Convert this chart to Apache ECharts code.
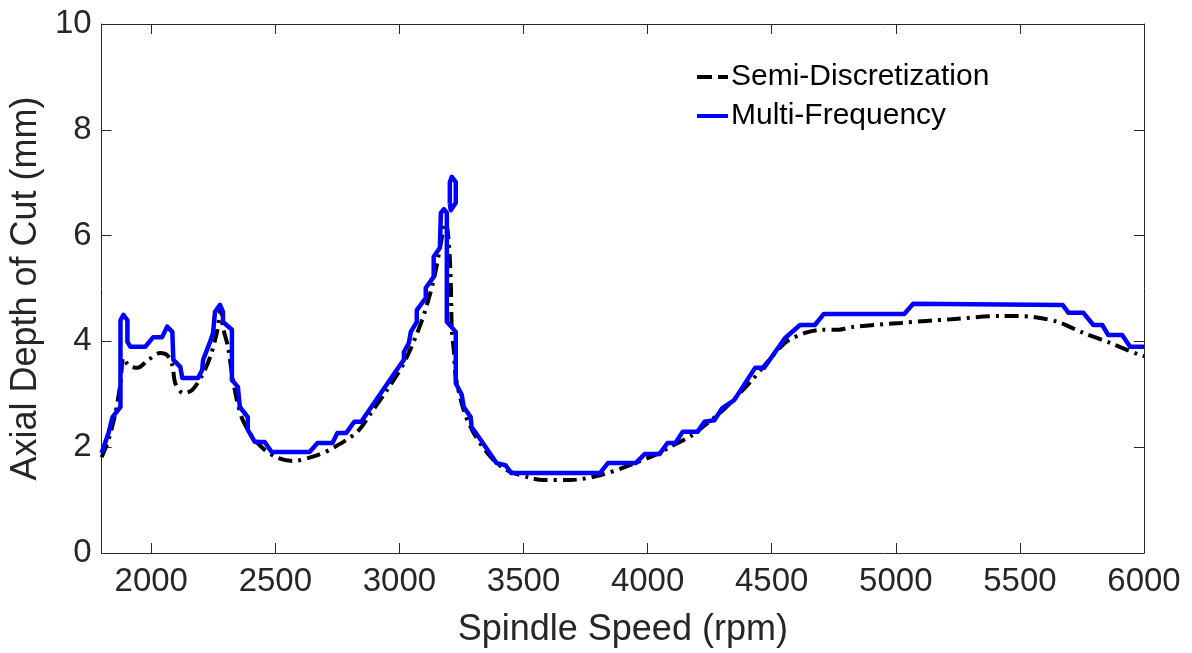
<!DOCTYPE html>
<html>
<head>
<meta charset="utf-8">
<script src="https://cdn.jsdelivr.net/npm/echarts@6/dist/echarts.min.js"></script>
<style>
html,body{margin:0;padding:0;background:#fff;}
#c{width:1192px;height:653px;}
</style>
</head>
<body>
<div id="c"></div>
<script>
// ---- data ----
var xTicks = [2000, 2500, 3000, 3500, 4000, 4500, 5000, 5500, 6000];
var yTicks = [0, 2, 4, 6, 8, 10];

var sdRpm = [1800,1828,1856,1876,1888,1908,1944,1988,2036,2064,2085,2097,2129,2165,2205,2237,2265,2281,2289,2309,2325,2345,2369,2409,2457,2509,2570,2670,2738,2830,2886,2950,3018,3087,3138,3179,3187,3199,3207,3211,3219,3227,3259,3299,3367,3431,3527,3580,3688,3808,3928,4048,4088,4181,4221,4313,4421,4553,4634,4702,4770,4822,5022,5223,5423,5491,5556,5652,5756,5864,5984,6000];
var sdDepth = [1.81,2.14,2.65,3.21,3.69,3.55,3.50,3.65,3.78,3.74,3.55,3.21,3.02,3.08,3.36,3.70,4.18,4.63,4.27,3.90,3.40,2.89,2.51,2.19,1.95,1.80,1.74,1.85,2.00,2.29,2.65,3.08,3.59,4.35,5.16,6.16,6.24,5.86,5.10,4.22,3.84,3.33,2.70,2.27,1.82,1.57,1.42,1.38,1.38,1.47,1.66,1.89,2.00,2.23,2.38,2.74,3.27,3.97,4.16,4.22,4.22,4.27,4.35,4.42,4.48,4.48,4.46,4.37,4.16,3.97,3.74,3.72];

var mfRpm = [1800,1828,1844,1876,1876,1888,1904,1904,1916,1976,2008,2044,2064,2085,2089,2117,2125,2189,2205,2209,2237,2249,2257,2277,2289,2289,2325,2325,2349,2357,2389,2389,2417,2457,2485,2638,2670,2730,2750,2786,2818,2846,2998,3018,3018,3038,3046,3070,3070,3106,3106,3138,3138,3163,3167,3179,3191,3191,3227,3227,3251,3259,3287,3291,3327,3391,3427,3451,3808,3840,3952,3988,4048,4080,4112,4141,4201,4229,4269,4301,4349,4433,4469,4553,4614,4674,4710,5034,5070,5672,5696,5756,5796,5832,5856,5912,5944,6000];
var mfDepth = [1.89,2.27,2.57,2.76,4.40,4.50,4.40,3.99,3.90,3.90,4.08,4.08,4.28,4.18,3.65,3.52,3.31,3.31,3.46,3.65,3.99,4.16,4.56,4.69,4.56,4.37,4.22,3.27,3.14,2.76,2.57,2.33,2.10,2.10,1.91,1.91,2.08,2.08,2.27,2.27,2.48,2.48,3.52,3.65,3.80,3.97,4.18,4.37,4.59,4.82,5.01,5.22,5.60,5.77,6.43,6.50,6.43,4.37,4.18,3.21,2.99,2.76,2.57,2.38,2.14,1.70,1.66,1.51,1.51,1.70,1.70,1.87,1.87,2.08,2.08,2.29,2.29,2.48,2.51,2.74,2.89,3.50,3.50,4.06,4.31,4.31,4.52,4.52,4.71,4.69,4.54,4.54,4.31,4.31,4.12,4.12,3.90,3.90];

// small closed island of the Multi-Frequency contour near the peak
var mfLoopRpm = [3203,3203,3211,3227,3227,3207,3203];
var mfLoopDepth = [6.60,7.01,7.11,7.01,6.62,6.48,6.60];

function zip(a, b) { var o = []; for (var i = 0; i < a.length; i++) o.push([a[i], b[i]]); return o; }

var axisColor = '#262626';
var font = 'Liberation Sans, Arial, Helvetica, sans-serif';
var plain = function (v) { return String(v); };

var chart = echarts.init(document.getElementById('c'), null, {renderer: 'canvas'});
var option = {
  backgroundColor: '#ffffff',
  animation: false,
  grid: {left: 96, right: 48, top: 24, bottom: 99, containLabel: false},
  legend: {
    orient: 'vertical',
    left: 692,
    top: 57,
    itemWidth: 31,
    itemHeight: 4,
    itemGap: 9,
    textStyle: {fontFamily: font, fontSize: 30, color: '#000', padding: [0, 0, 0, -2]},
    data: [
      {name: 'Semi-Discretization', icon: 'path://M0,0h15v4h-15z M21,0h10v4h-10z', itemStyle: {color: '#000'}},
      {name: 'Multi-Frequency', icon: 'rect', itemStyle: {color: '#0000ff'}}
    ]
  },
  xAxis: [{
    type: 'value', min: 1800, max: 6000,
    name: 'Spindle Speed (rpm)', nameLocation: 'middle', nameGap: 59,
    nameTextStyle: {fontFamily: font, fontSize: 36, color: axisColor},
    axisLine: {show: true, onZero: false, lineStyle: {color: axisColor, width: 1}},
    axisTick: {show: true, inside: true, length: 10, customValues: xTicks, lineStyle: {color: axisColor}},
    axisLabel: {show: true, margin: 12, customValues: xTicks, formatter: plain, fontFamily: font, fontSize: 33, color: axisColor},
    splitLine: {show: false}
  }, {
    type: 'value', min: 1800, max: 6000, position: 'top',
    axisLine: {show: true, onZero: false, lineStyle: {color: axisColor, width: 1}},
    axisTick: {show: true, inside: true, length: 10, customValues: xTicks, lineStyle: {color: axisColor}},
    axisLabel: {show: false},
    splitLine: {show: false}
  }],
  yAxis: [{
    type: 'value', min: 0, max: 10, interval: 2,
    name: 'Axial Depth of Cut (mm)', nameLocation: 'middle', nameGap: 50,
    nameTextStyle: {fontFamily: font, fontSize: 36, color: axisColor},
    axisLine: {show: true, onZero: false, lineStyle: {color: axisColor, width: 1}},
    axisTick: {show: true, inside: true, length: 10, lineStyle: {color: axisColor}},
    axisLabel: {show: true, margin: 10, formatter: plain, fontFamily: font, fontSize: 33, color: axisColor},
    splitLine: {show: false}
  }, {
    type: 'value', min: 0, max: 10, interval: 2, position: 'right',
    axisLine: {show: true, onZero: false, lineStyle: {color: axisColor, width: 1}},
    axisTick: {show: true, inside: true, length: 10, lineStyle: {color: axisColor}},
    axisLabel: {show: false},
    splitLine: {show: false}
  }],
  series: [{
    name: 'Semi-Discretization', type: 'line', data: zip(sdRpm, sdDepth),
    smooth: 0.3, symbol: 'none', color: '#000000',
    lineStyle: {color: '#000000', width: 4, type: [14, 6, 3, 6]}
  }, {
    name: 'Multi-Frequency', type: 'line', data: zip(mfRpm, mfDepth),
    symbol: 'none', color: '#0000ff',
    lineStyle: {color: '#0000ff', width: 4.5, join: 'round'}
  }, {
    name: 'Multi-Frequency', type: 'line', data: zip(mfLoopRpm, mfLoopDepth),
    symbol: 'none', color: '#0000ff',
    lineStyle: {color: '#0000ff', width: 4.5, join: 'round'}
  }]
};
chart.setOption(option);
</script>
</body>
</html>
